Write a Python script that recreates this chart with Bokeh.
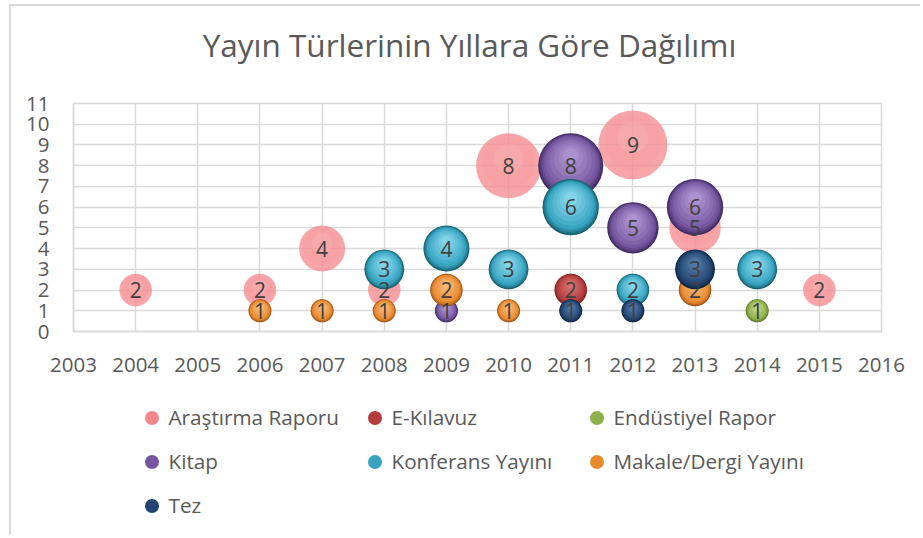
import math
from bokeh.plotting import figure
from bokeh.layouts import column
from bokeh.models import Legend, LegendItem, FixedTicker, Range1d, ColumnDataSource, Label
from bokeh.core.properties import value
from bokeh.embed import file_html
from bokeh.resources import INLINE

TITLE = "Yayın Türlerinin Yıllara Göre Dağılımı"
x_ticks = [2003, 2004, 2005, 2006, 2007, 2008, 2009, 2010, 2011, 2012, 2013, 2014, 2015, 2016]
y_ticks = [0, 1, 2, 3, 4, 5, 6, 7, 8, 9, 10, 11]

series_names = ["Araştırma Raporu", "E-Kılavuz", "Endüstiyel Rapor", "Kitap",
                "Konferans Yayını", "Makale/Dergi Yayını", "Tez"]

ar_years = [2004, 2006, 2007, 2008, 2010, 2012, 2013, 2015]
ar_vals = [2, 2, 4, 2, 8, 9, 5, 2]
ek_years = [2011]
ek_vals = [2]
en_years = [2014]
en_vals = [1]
kitap_years = [2009, 2011, 2012, 2013]
kitap_vals = [1, 8, 5, 6]
konf_years = [2008, 2009, 2010, 2011, 2012, 2014]
konf_vals = [3, 4, 3, 6, 2, 3]
mak_years = [2006, 2007, 2008, 2009, 2010, 2013]
mak_vals = [1, 1, 1, 2, 1, 2]
tez_years = [2011, 2012, 2013]
tez_vals = [1, 1, 3]

# (edge, mid, light, alpha)
styles = [
    ("#F07C81", "#F4878C", "#FAB8BB", 0.75),
    ("#7A2222", "#B43C3C", "#DB7A7A", 1.0),
    ("#5C782A", "#8DB04A", "#C6E08E", 1.0),
    ("#3F2B62", "#7656A0", "#B8A0DA", 1.0),
    ("#17606F", "#37A4C1", "#94E0F2", 1.0),
    ("#9E5218", "#E98A2F", "#F9C386", 1.0),
    ("#0F2442", "#224570", "#5A82B0", 1.0),
]

data = [(ar_years, ar_vals), (ek_years, ek_vals), (en_years, en_vals), (kitap_years, kitap_vals),
        (konf_years, konf_vals), (mak_years, mak_vals), (tez_years, tez_vals)]


def mix(c1, c2, t):
    a = [int(c1[i:i + 2], 16) for i in (1, 3, 5)]
    b = [int(c2[i:i + 2], 16) for i in (1, 3, 5)]
    return "#%02x%02x%02x" % tuple(round(a[k] + (b[k] - a[k]) * t) for k in range(3))


W = 911
HT, H1, H2 = 60, 319, 152
FL, FR = 62, 870
FRAME_H = H1 - 37 - 54
BUB = 23.0  # px diameter for value 1 (bubble area proportional to value)
PX_TO_Y = (y_ticks[-1] - y_ticks[0]) / FRAME_H


def blank_panel(h):
    f = figure(width=W, height=h, output_backend="svg", toolbar_location=None,
               x_axis_type=None, y_axis_type=None, x_range=Range1d(0, 1), y_range=Range1d(0, 1),
               min_border_left=0, min_border_right=0, min_border_top=0, min_border_bottom=0,
               background_fill_color="white", border_fill_color="white", outline_line_color=None)
    f.xgrid.visible = False
    f.ygrid.visible = False
    return f


# title panel
tf = blank_panel(HT)
tf.add_layout(Label(x=396, y=22, x_units="screen", y_units="screen", text=TITLE,
                    text_align="center", text_baseline="middle", text_font="Open Sans",
                    text_font_size="31.5px", text_color="#595959"))

# chart
p = figure(width=W, height=H1, output_backend="svg", toolbar_location=None,
           x_range=Range1d(2003, 2016), y_range=Range1d(0, 11),
           min_border_left=FL, min_border_right=W - FR,
           min_border_top=37, min_border_bottom=54,
           background_fill_color="white", border_fill_color="white")

for ax in (p.xaxis, p.yaxis):
    ax.major_label_text_font = "Open Sans"
    ax.major_label_text_font_size = "20.5px"
    ax.major_label_text_color = "#595959"
    ax.axis_line_color = "#d9d9d9"
    ax.axis_line_width = 1.5
    ax.major_tick_line_color = None
    ax.minor_tick_line_color = None
p.xaxis.ticker = FixedTicker(ticks=x_ticks)
p.yaxis.ticker = FixedTicker(ticks=y_ticks)
p.xaxis.major_label_standoff = 20
p.yaxis.major_label_standoff = 18
p.xgrid.ticker = FixedTicker(ticks=x_ticks)
p.ygrid.ticker = FixedTicker(ticks=y_ticks)
for g in (p.xgrid, p.ygrid):
    g.grid_line_color = "#d9d9d9"
    g.grid_line_width = 1.5
p.outline_line_color = "#d9d9d9"
p.outline_line_width = 1.5

# sphere-like shading: stacked circles, inner (lighter) ones shifted slightly upward
solid_layers = [(1.0, 0.0), (0.96, 0.35), (0.91, 0.7), (0.85, 1.0), (0.76, 1.2),
                (0.65, 1.4), (0.52, 1.6), (0.38, 1.8), (0.24, 2.0)]
for (yrs, vals), (edge, mid, light, alpha) in zip(data, styles):
    base = [BUB * math.sqrt(v) for v in vals]
    if alpha < 1:
        layers = [(1.0, mid, alpha), (0.8, mix(mid, light, 0.3), 0.25), (0.45, light, 0.3)]
    else:
        layers = []
        for f, t in solid_layers:
            col = mix(edge, mid, t) if t <= 1 else mix(mid, light, (t - 1.0) * 0.8)
            layers.append((f, col, 1.0))
    for f, col, a in layers:
        ys = [v + (1 - f) * 0.5 * (b / 2) * 0.8 * PX_TO_Y for v, b in zip(vals, base)]
        src = ColumnDataSource(dict(x=yrs, y=ys, s=[b * f for b in base]))
        p.scatter("x", "y", size="s", source=src, fill_color=col, fill_alpha=a, line_color=None)

all_x, all_y = [], []
for yrs, vals in data:
    all_x += yrs
    all_y += vals
p.text(x=all_x, y=all_y, text=[str(v) for v in all_y], text_font=value("Open Sans"),
       text_font_size="21px", text_color="#404040", text_align="center", text_baseline="middle")

# legend panel (its frame is aligned with the chart's frame by the column layout)
lf = blank_panel(H2)
leg_rs = []
for (yrs, vals), (edge, mid, light, alpha) in zip(data, styles):
    src = ColumnDataSource(dict(x=yrs[:1], y=vals[:1]))
    leg_rs.append(lf.scatter("x", "y", source=src, size=14, fill_color=mid, line_color=None))

cols = [[0, 3, 6], [1, 4], [2, 5]]
col_left = [60.5, 283.5, 505.5]
top = 14.5
for ci, idxs in enumerate(cols):
    items = [LegendItem(label=series_names[i], renderers=[leg_rs[i]]) for i in idxs]
    n = len(idxs)
    hgt = n * 35 + (n - 1) * 9
    lg = Legend(items=items, location=(col_left[ci], H2 - top - hgt),
                orientation="vertical", padding=0, margin=0, spacing=9,
                glyph_width=35, glyph_height=35, label_standoff=0,
                label_text_font="Open Sans", label_text_font_size="20.7px",
                label_text_color="#595959", border_line_color=None,
                background_fill_alpha=0)
    lf.add_layout(lg, "center")

layout = column(tf, p, lf, spacing=0,
                styles={"margin-left": "11px", "margin-top": "6px",
                        "box-shadow": "-2px -2px 0 0 #d9d9d9"})

open("out.html", "w").write(file_html(layout, INLINE))
